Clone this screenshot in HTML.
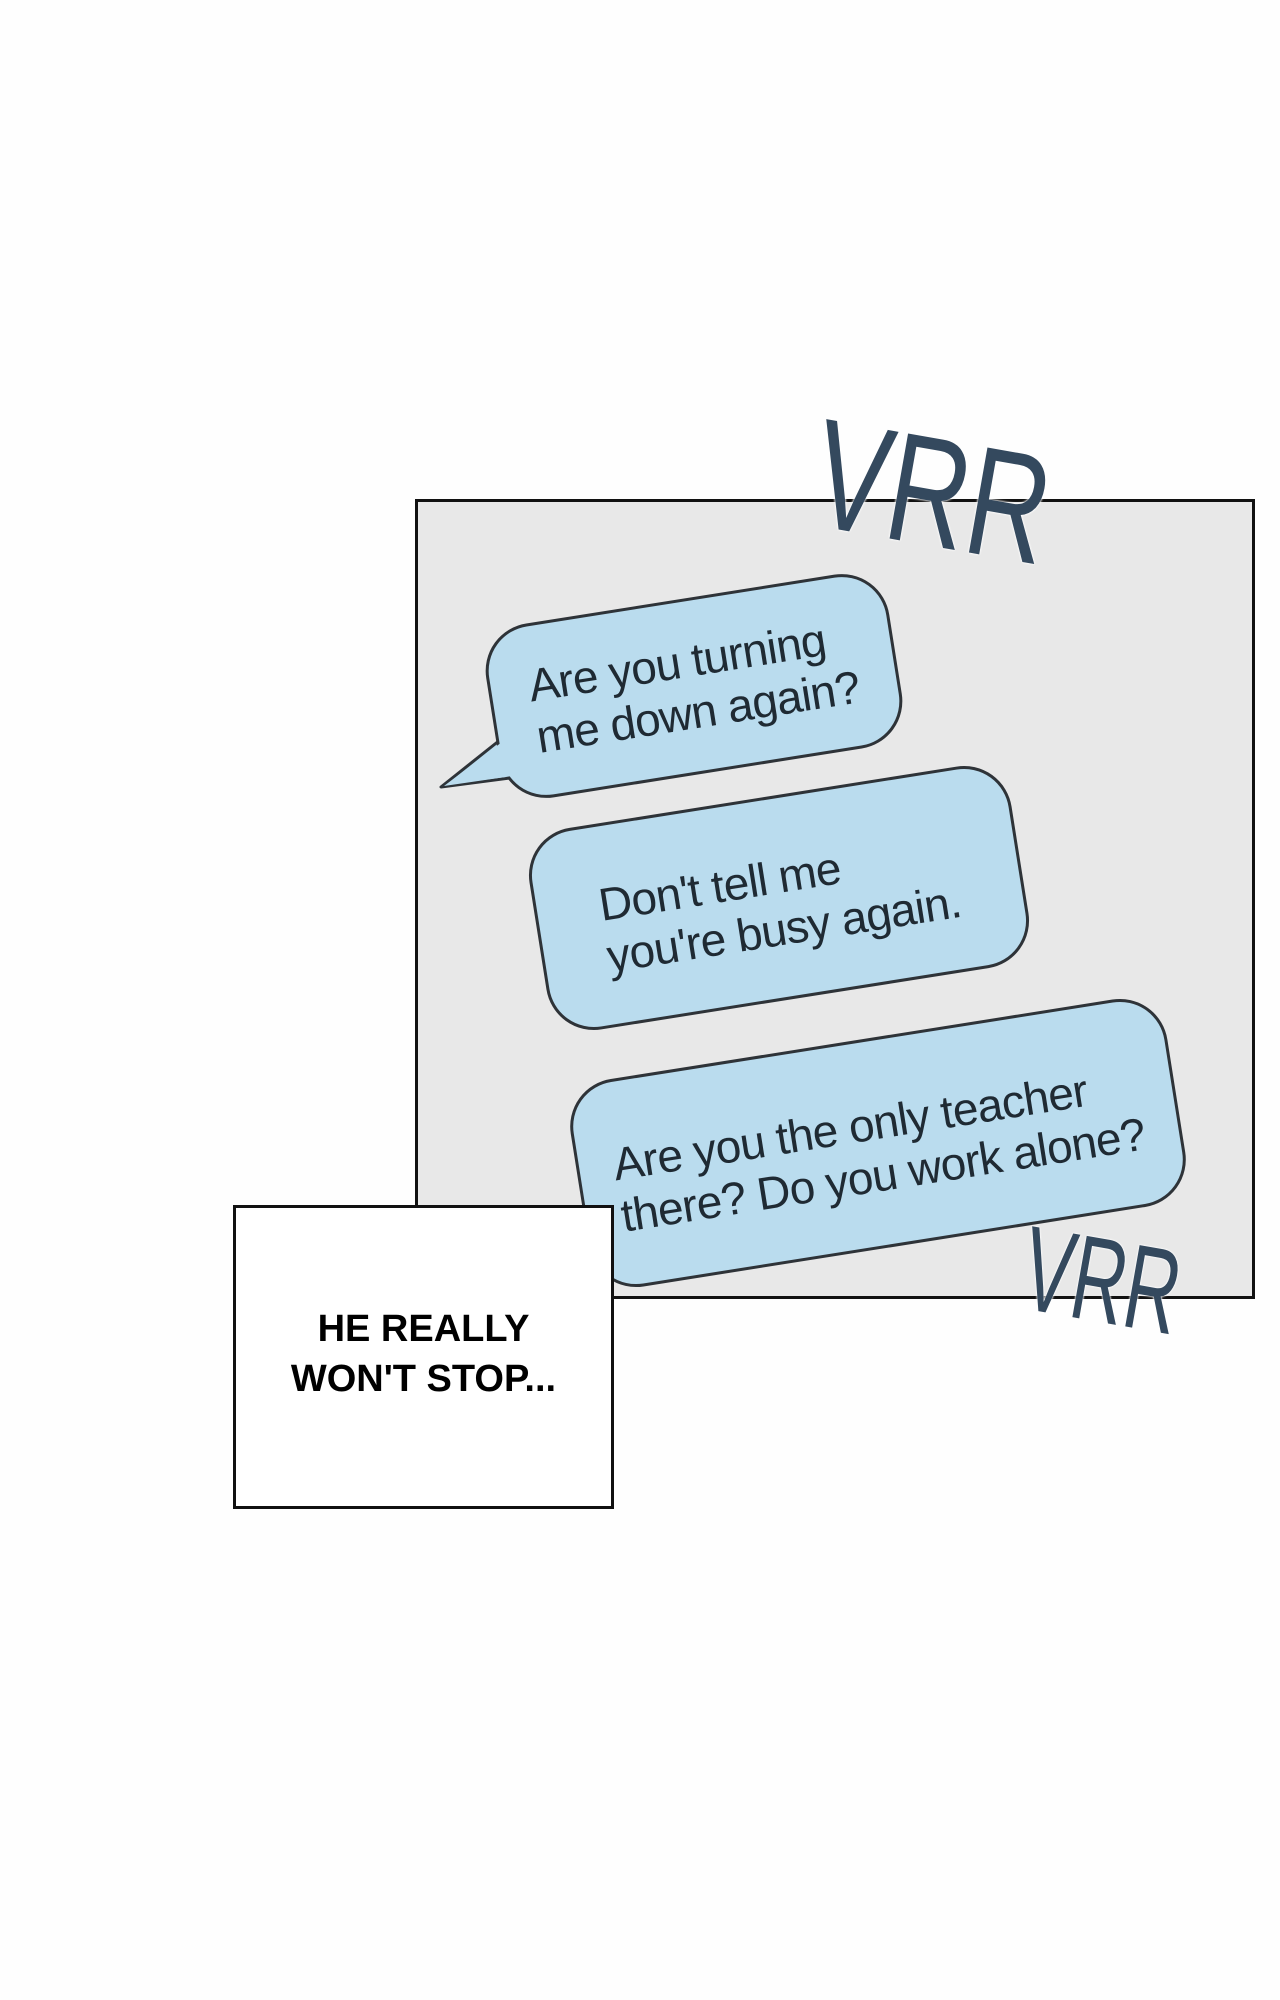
<!DOCTYPE html>
<html><head><meta charset="utf-8"><style>
body{margin:0;width:1280px;height:2000px;background:#fefefe;position:relative;overflow:hidden;font-family:"Liberation Sans",sans-serif}
.panel{position:absolute;left:415px;top:499px;width:840px;height:800px;background:#e8e8e8;border:3px solid #111;box-sizing:border-box}
.b{position:absolute;background:#badcee;border:3px solid #2e3338;border-radius:48px;box-sizing:border-box;transform:rotate(-9deg);display:flex;align-items:center;justify-content:center;text-align:left;color:#1f2a33;font-size:46px;line-height:52px;letter-spacing:-0.8px;font-family:"Liberation Sans Narrow","Liberation Sans",sans-serif}
.vrr{position:absolute;color:#34495e;font-family:"Liberation Sans Narrow","Liberation Sans",sans-serif;text-shadow:0 0 3px #fff,0 0 3px #fff}
.box{position:absolute;left:233px;top:1205px;width:381px;height:304px;background:#fff;border:3px solid #111;box-sizing:border-box;display:flex;align-items:center;justify-content:center;text-align:center;font-weight:bold;font-size:38px;line-height:50px;padding-bottom:6px;font-family:"Liberation Sans Narrow","Liberation Sans",sans-serif}
</style></head><body>
<div class="panel"></div>
<svg style="position:absolute;left:0;top:0" width="1280" height="2000">
<polygon points="500,740 441,787 510,778" fill="#badcee" stroke="#2e3338" stroke-width="3" stroke-linejoin="round"/>
</svg>
<div class="b" style="left:490px;top:598px;width:408px;height:176px">
<div>Are you turning<br>me down again?</div></div>
<svg style="position:absolute;left:0;top:0" width="1280" height="2000">
<polygon points="502,742 444,786 512,776" fill="#badcee"/>
</svg>
<div class="b" style="left:535px;top:796px;width:488px;height:204px">
<div style="padding-top:10px">Don't tell me<br>you're busy again.</div></div>
<div class="b" style="left:576px;top:1038px;width:604px;height:210px">
<div style="padding-top:12px">Are you the only teacher<br>there? Do you work alone?</div></div>
<div class="vrr" style="left:830px;top:395px;font-size:155px;transform:rotate(10deg) scaleX(0.72);transform-origin:left top;line-height:155px">VRR</div>
<div class="vrr" style="left:1035px;top:1208px;font-size:120px;transform:rotate(10deg) scaleX(0.62);transform-origin:left top;line-height:120px">VRR</div>
<div class="box"><div>HE REALLY<br>WON'T STOP...</div></div>
</body></html>
